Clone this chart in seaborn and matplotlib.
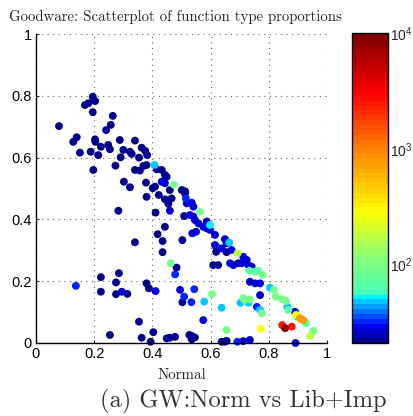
import numpy as np
import pandas as pd
import matplotlib
matplotlib.use("Agg")
import matplotlib.pyplot as plt
from matplotlib.colors import LogNorm, LinearSegmentedColormap
from matplotlib.cm import ScalarMappable
import seaborn as sns

# ---- data ----
normal = [
    0.195, 0.203, 0.168, 0.180, 0.195, 0.264, 0.257, 0.241, 0.079, 0.140,
    0.128, 0.203, 0.204, 0.151, 0.188, 0.214, 0.223, 0.248, 0.254, 0.288,
    0.340, 0.300, 0.323, 0.291, 0.329, 0.354, 0.363, 0.375, 0.382, 0.197,
    0.273, 0.340, 0.357, 0.369, 0.380, 0.407, 0.415, 0.432, 0.443, 0.449,
    0.302, 0.323, 0.378, 0.401, 0.409, 0.422, 0.380, 0.432, 0.443, 0.460,
    0.474, 0.501, 0.512, 0.443, 0.466, 0.455, 0.460, 0.515, 0.518, 0.535,
    0.541, 0.564, 0.283, 0.411, 0.509, 0.529, 0.546, 0.558, 0.575, 0.587,
    0.598, 0.443, 0.418, 0.435, 0.503, 0.537, 0.550, 0.340, 0.435, 0.512,
    0.541, 0.587, 0.598, 0.615, 0.649, 0.655, 0.664, 0.619, 0.619, 0.655,
    0.672, 0.693, 0.712, 0.615, 0.638, 0.724, 0.707, 0.730, 0.741, 0.609,
    0.626, 0.667, 0.678, 0.695, 0.733, 0.753, 0.764, 0.779, 0.735, 0.753,
    0.770, 0.770, 0.804, 0.818, 0.824, 0.846, 0.859, 0.864, 0.867, 0.890,
    0.896, 0.894, 0.907, 0.919, 0.928, 0.953, 0.942, 0.846, 0.856, 0.879,
    0.892, 0.605, 0.712, 0.718, 0.735, 0.703, 0.730, 0.770, 0.759, 0.776,
    0.578, 0.638, 0.575, 0.655, 0.772, 0.535, 0.546, 0.638, 0.649, 0.655,
    0.692, 0.712, 0.735, 0.463, 0.483, 0.478, 0.223, 0.285, 0.275, 0.223,
    0.275, 0.295, 0.314, 0.137, 0.380, 0.388, 0.411, 0.495, 0.509, 0.503,
    0.534, 0.544, 0.354, 0.254, 0.363, 0.403, 0.394, 0.449, 0.460, 0.478,
    0.527, 0.535,
]
lib_imp = [
    0.797, 0.783, 0.770, 0.776, 0.747, 0.735, 0.706, 0.689, 0.702, 0.666,
    0.651, 0.659, 0.651, 0.616, 0.619, 0.608, 0.635, 0.641, 0.627, 0.657,
    0.655, 0.625, 0.619, 0.601, 0.612, 0.600, 0.632, 0.622, 0.608, 0.560,
    0.574, 0.560, 0.558, 0.573, 0.576, 0.576, 0.562, 0.560, 0.544, 0.538,
    0.522, 0.504, 0.519, 0.501, 0.506, 0.479, 0.473, 0.522, 0.517, 0.495,
    0.512, 0.495, 0.484, 0.465, 0.468, 0.450, 0.428, 0.468, 0.452, 0.454,
    0.441, 0.425, 0.428, 0.422, 0.411, 0.414, 0.398, 0.387, 0.376, 0.371,
    0.382, 0.376, 0.352, 0.330, 0.333, 0.355, 0.360, 0.326, 0.294, 0.491,
    0.409, 0.393, 0.366, 0.350, 0.336, 0.323, 0.325, 0.312, 0.295, 0.294,
    0.301, 0.290, 0.279, 0.317, 0.306, 0.269, 0.258, 0.252, 0.247, 0.252,
    0.252, 0.258, 0.252, 0.258, 0.234, 0.231, 0.234, 0.220, 0.198, 0.193,
    0.193, 0.155, 0.179, 0.172, 0.150, 0.142, 0.136, 0.117, 0.107, 0.101,
    0.087, 0.091, 0.080, 0.074, 0.064, 0.039, 0.023, 0.058, 0.048, 0.053,
    0.000, 0.158, 0.145, 0.139, 0.141, 0.130, 0.130, 0.107, 0.117, 0.096,
    0.134, 0.114, 0.074, 0.042, 0.046, 0.023, 0.018, 0.004, 0.004, 0.007,
    0.004, 0.006, 0.010, 0.258, 0.244, 0.222, 0.213, 0.226, 0.196, 0.166,
    0.158, 0.166, 0.159, 0.185, 0.193, 0.177, 0.168, 0.172, 0.150, 0.132,
    0.132, 0.174, 0.069, 0.026, 0.017, 0.035, 0.004, 0.015, 0.017, 0.020,
    0.026, 0.012,
]
count = [
    21, 21, 21, 21, 21, 21, 21, 21, 21, 21,
    21, 21, 21, 21, 21, 21, 21, 21, 21, 21,
    21, 21, 21, 21, 21, 21, 23, 23, 21, 21,
    21, 21, 21, 21, 21, 48, 21, 21, 21, 21,
    21, 21, 21, 21, 21, 21, 21, 26, 26, 21,
    95, 21, 21, 21, 21, 21, 26, 33, 26, 26,
    26, 95, 21, 21, 21, 26, 26, 26, 26, 26,
    55, 21, 21, 21, 21, 26, 26, 21, 21, 21,
    26, 26, 26, 26, 26, 26, 48, 21, 21, 21,
    26, 160, 26, 26, 26, 26, 26, 26, 26, 21,
    21, 26, 26, 21, 68, 68, 68, 95, 26, 26,
    26, 26, 48, 95, 95, 95, 95, 48, 68, 26,
    48, 280, 800, 800, 68, 95, 160, 2500, 8000, 2500,
    26, 95, 95, 95, 95, 48, 48, 48, 33, 95,
    48, 48, 26, 95, 280, 21, 21, 21, 21, 21,
    33, 26, 26, 95, 21, 33, 21, 21, 21, 21,
    21, 26, 21, 33, 21, 21, 26, 26, 33, 21,
    33, 33, 21, 21, 21, 21, 21, 21, 21, 21,
    21, 21,
]
axis_ticks = [0, 0.2, 0.4, 0.6, 0.8, 1]
axis_ticklabels = ["0", "0.2", "0.4", "0.6", "0.8", "1"]
cbar_ticks = [100, 1000, 10000]
cbar_ticklabels = ["$10^2$", "$10^3$", "$10^4$"]
title_text = "Goodware: Scatterplot of function type proportions"
xlabel_text = "Normal"
caption_text = "(a) GW:Norm vs Lib+Imp"

df = pd.DataFrame({"normal": normal, "lib_imp": lib_imp, "count": count})
df = df.sort_values("count", kind="stable")

# ---- style ----
sns.set_style("white")
plt.rcParams["font.family"] = ["Liberation Sans", "DejaVu Sans"]
plt.rcParams["mathtext.fontset"] = "custom"
plt.rcParams["mathtext.rm"] = "Liberation Sans"
plt.rcParams["mathtext.it"] = "Liberation Sans:italic"

anchors = [
    (0.00, (0.0, 0.0, 0.55)),
    (0.05, (0.0, 0.0, 1.0)),
    (0.148, (0.0, 1.0, 1.0)),
    (0.16, (0.3, 1.0, 0.7)),
    (0.28, (0.55, 1.0, 0.45)),
    (0.42, (1.0, 1.0, 0.0)),
    (0.63, (1.0, 0.5, 0.0)),
    (0.81, (1.0, 0.0, 0.0)),
    (1.00, (0.5, 0.0, 0.0)),
]
cmap = LinearSegmentedColormap.from_list("jetlike", anchors, N=64)
cmap.set_under((0.0, 0.0, 0.55))
norm = LogNorm(vmin=21, vmax=10000)

fig = plt.figure(figsize=(4.14, 4.16), dpi=100)
ax = fig.add_axes([36 / 414, 73 / 416, 291 / 414, 309 / 416])

sns.scatterplot(data=df, x="normal", y="lib_imp", hue="count", hue_norm=norm,
                palette=cmap, s=32, linewidth=0, legend=False, ax=ax)
for coll in ax.collections:
    coll.set_clip_on(False)

ax.set_xlim(0, 1)
ax.set_ylim(0, 1)
ax.set_xticks(axis_ticks)
ax.set_xticklabels(axis_ticklabels)
ax.set_yticks(axis_ticks)
ax.set_yticklabels(axis_ticklabels)
ax.set_xlabel("")
ax.set_ylabel("")
ax.tick_params(axis="both", direction="in", length=2, width=0.6,
               labelsize=10.5, colors="black", pad=3, bottom=True, left=True)
ax.set_axisbelow(True)
ax.grid(True, color="0.4", linestyle=(0, (1, 4)), linewidth=0.8)
sns.despine(ax=ax, top=True, right=True)
for side in ("left", "bottom"):
    ax.spines[side].set_color("black")
    ax.spines[side].set_linewidth(1.0)

# colorbar
cax = fig.add_axes([352 / 414, 73 / 416, 36 / 414, 310 / 416])
sm = ScalarMappable(norm=norm, cmap=cmap)
cb = fig.colorbar(sm, cax=cax)
cb.set_ticks(cbar_ticks)
cb.set_ticklabels(cbar_ticklabels)
cb.outline.set_linewidth(1.0)
cb.outline.set_edgecolor("black")
cax.tick_params(which="both", direction="in", left=True, right=False,
                labelsize=10, width=0.5, pad=1.5)
cax.tick_params(which="major", length=3)
cax.tick_params(which="minor", length=2)

# texts (serif, Computer Modern look)
fig.text(175 / 414, 1 - 17 / 416, title_text, family="cmr10", fontsize=10.7,
         ha="center", va="center")
fig.text(182 / 414, 1 - 375 / 416, xlabel_text, family="cmr10", fontsize=10.8,
         ha="center", va="center")
fig.text(243 / 414, 1 - 401 / 416, caption_text, family="cmr10", fontsize=17.6,
         ha="center", va="center", color="0.2")

fig.savefig("out.png", dpi=100)
